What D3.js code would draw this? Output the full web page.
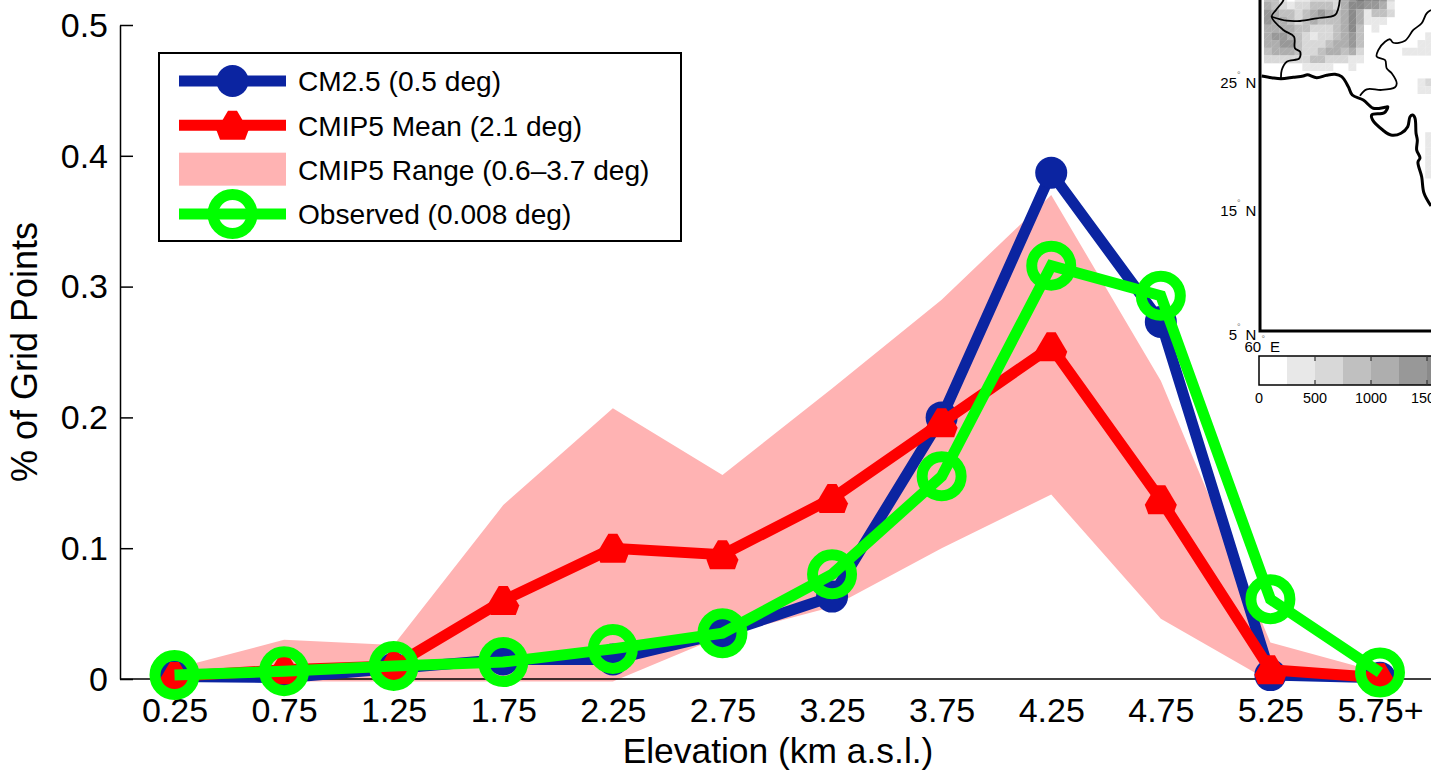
<!DOCTYPE html>
<html>
<head>
<meta charset="utf-8">
<title>Elevation histogram</title>
<script src="https://cdnjs.cloudflare.com/ajax/libs/d3/7.8.5/d3.min.js"></script>
<style>
    html, body { margin: 0; padding: 0; background: #fff; overflow: hidden; }
    svg { display: block; }
    text { font-family: "Liberation Sans", Arial, sans-serif; fill: #000; }
</style>
</head>
<body>
<div id="chart"></div>
<script>
// Main chart values
var elevationLabels = ["0.25", "0.75", "1.25", "1.75", "2.25", "2.75", "3.25", "3.75", "4.25", "4.75", "5.25", "5.75+"];
var cm25Values = [0.002, 0.001, 0.008, 0.015, 0.015, 0.035, 0.063, 0.200, 0.387, 0.273, 0.003, 0.001];
var cmip5MeanValues = [0.002, 0.007, 0.010, 0.060, 0.100, 0.095, 0.138, 0.196, 0.254, 0.137, 0.007, 0.001];
var cmip5UpperValues = [0.008, 0.030, 0.026, 0.133, 0.207, 0.156, 0.222, 0.290, 0.370, 0.228, 0.028, 0.005];
var cmip5LowerValues = [0.000, -0.002, -0.002, -0.002, -0.002, 0.033, 0.055, 0.100, 0.141, 0.046, -0.002, 0.000];
var observedValues = [0.003, 0.006, 0.010, 0.013, 0.023, 0.035, 0.080, 0.155, 0.316, 0.293, 0.061, 0.005];
var yTickValues = [0, 0.1, 0.2, 0.3, 0.4, 0.5];
var legendLabels = ["CM2.5 (0.5 deg)", "CMIP5 Mean (2.1 deg)", "CMIP5 Range (0.6\u20133.7 deg)", "Observed (0.008 deg)"];

// Inset map values: elevation level per grid cell, rows run north to south
var elevationLevels = [
    [3, 3, 1, 0, 1, 1, 2, 2, 2, 2, 4, 5, 7, 6, 6, 5, 2],
    [4, 3, 2, 1, 2, 2, 3, 3, 3, 2, 4, 6, 6, 5, 5, 4, 1],
    [5, 4, 3, 3, 2, 3, 4, 5, 4, 3, 4, 6, 4, 1, 3, 3, 2],
    [5, 4, 4, 3, 2, 3, 4, 3, 3, 3, 4, 6, 4, 1, 1, 1, 0],
    [4, 4, 4, 4, 3, 3, 2, 2, 2, 3, 4, 6, 3, 0, 1, 0, 0],
    [4, 5, 5, 4, 3, 2, 1, 2, 2, 3, 4, 5, 3, 0, 0, 0, 0, 0, 0, 0, 0, 1, 1],
    [4, 4, 5, 5, 3, 2, 2, 2, 3, 4, 4, 5, 3, 0, 0, 0, 0, 0, 0, 0, 1, 1, 0],
    [3, 4, 4, 4, 3, 2, 2, 3, 4, 4, 3, 4, 2, 0, 0, 0, 0, 0, 1, 1, 1, 1, 1],
    [2, 2, 2, 2, 2, 2, 3, 3, 2, 2, 2, 1, 1],
    [0, 0, 0, 0, 0, 1, 1, 1, 1, 0, 0, 1],
    [],
    [0, 0, 0, 0, 0, 0, 0, 0, 0, 0, 0, 0, 0, 0, 0, 0, 0, 0, 0, 0, 1, 2, 1],
    [0, 0, 0, 0, 0, 0, 0, 0, 0, 0, 0, 0, 0, 0, 0, 0, 0, 0, 0, 0, 1, 1, 1],
    [], [], [], [], [],
    [0, 0, 0, 0, 0, 0, 0, 0, 0, 0, 0, 0, 0, 0, 0, 0, 0, 0, 0, 0, 0, 1, 1],
    [0, 0, 0, 0, 0, 0, 0, 0, 0, 0, 0, 0, 0, 0, 0, 0, 0, 0, 0, 0, 0, 1, 1],
    [0, 0, 0, 0, 0, 0, 0, 0, 0, 0, 0, 0, 0, 0, 0, 0, 0, 0, 0, 0, 0, 1, 1],
    [0, 0, 0, 0, 0, 0, 0, 0, 0, 0, 0, 0, 0, 0, 0, 0, 0, 0, 0, 0, 0, 1, 1],
    [0, 0, 0, 0, 0, 0, 0, 0, 0, 0, 0, 0, 0, 0, 0, 0, 0, 0, 0, 0, 0, 1, 1],
    [0, 0, 0, 0, 0, 0, 0, 0, 0, 0, 0, 0, 0, 0, 0, 0, 0, 0, 0, 0, 0, 1, 1]
];
var colorbarSteps = [0, 250, 500, 750, 1000, 1250, 1500, 1750];
var colorbarTicks = [0, 500, 1000, 1500];
var latTicks = [25, 15, 5];

// Coast and borders as [lon, lat]
var coastline = [[60.13, 24.92], [60.91, 24.79], [61.64, 24.71], [62.60, 24.82], [63.38, 24.92], [63.70, 25.02], [64.43, 24.79], [65.21, 24.98], [65.86, 25.05], [66.38, 24.87], [66.90, 24.09], [67.21, 23.44], [68.07, 23.05], [68.85, 22.40], [69.77, 22.48], [69.98, 22.52], [69.71, 22.05], [68.73, 21.88], [68.80, 21.48], [69.59, 20.70], [70.23, 20.31], [71.02, 20.45], [71.54, 20.96], [71.72, 21.74], [71.93, 21.88], [72.11, 21.62], [72.19, 20.45], [72.29, 19.92], [72.24, 19.14], [72.50, 18.52], [72.34, 18.20], [72.63, 17.05], [72.81, 15.78], [73.36, 14.77]];
var iranBorder = [[61.64, 24.71], [61.70, 25.39], [62.09, 26.04], [63.07, 26.30], [63.13, 26.82], [62.73, 27.09], [62.66, 27.99], [61.82, 28.52], [60.91, 29.55], [61.25, 30.08], [61.77, 30.73], [61.88, 31.02]];
var afghanBorder = [[60.91, 29.55], [62.09, 29.24], [63.13, 29.22], [64.43, 29.43], [65.86, 29.69], [66.12, 30.21], [66.25, 31.02]];
var indiaBorder = [[67.81, 23.38], [68.34, 23.88], [69.51, 23.83], [70.55, 24.04], [70.68, 24.35], [70.29, 25.13], [69.90, 25.52], [69.77, 26.17], [69.12, 26.43], [69.24, 26.95], [69.77, 27.60], [70.16, 27.79], [70.41, 27.52], [71.33, 27.68], [71.98, 28.52], [72.63, 29.04], [73.02, 29.82], [73.36, 30.08]];

var width = 1431;
var height = 771;

var svg = d3.select("#chart").append("svg")
    .attr("width", width)
    .attr("height", height);

// Scales for the main chart
var xScale = d3.scalePoint().domain(elevationLabels).range([174.5, 1380]);
var yScale = d3.scaleLinear().domain([0, 0.5]).range([679, 25]);

var colors = {blue: "#0b24a1", red: "#ff0000", pink: "#ffb3b3", green: "#00ff00"};
var lineWidth = 11;
var dotRadius = 16;
var ringRadius = 19.5;
var ringWidth = 11;

// Red marker is a blunt hexagon
var hexPoints = [[-4.5, -14.5], [4.5, -14.5], [16, 5], [12.5, 14.5], [-12.5, 14.5], [-16, 5]];
var hexPath = d3.line()(hexPoints) + "Z";

var line = d3.line()
    .x(function (d, i) { return xScale(elevationLabels[i]); })
    .y(function (d) { return yScale(d); });

var band = d3.area()
    .x(function (d, i) { return xScale(elevationLabels[i]); })
    .y0(function (d, i) { return yScale(cmip5LowerValues[i]); })
    .y1(function (d) { return yScale(d); });

// Range band goes under everything
svg.append("path")
    .datum(cmip5UpperValues)
    .attr("d", band)
    .attr("fill", colors.pink);

// Axes
var yAxis = d3.axisLeft(yScale)
    .tickValues(yTickValues)
    .tickFormat(function (d) { return d === 0 ? "0" : d3.format(".1f")(d); })
    .tickSizeInner(-13)
    .tickSizeOuter(0)
    .tickPadding(12);

var yAxisG = svg.append("g")
    .attr("transform", "translate(120,0)")
    .call(yAxis);
yAxisG.selectAll("text").style("font-size", "34px").attr("dy", ".33em");
yAxisG.selectAll("line, path").attr("stroke", "#000").attr("stroke-width", 1.5);

var xAxis = d3.axisBottom(xScale)
    .tickSize(0)
    .tickPadding(19);

var xAxisG = svg.append("g")
    .attr("transform", "translate(0,679)")
    .call(xAxis);
xAxisG.select(".domain").remove();
xAxisG.selectAll("text").style("font-size", "34px");

svg.append("line")
    .attr("x1", 120).attr("x2", width)
    .attr("y1", yScale(0)).attr("y2", yScale(0))
    .attr("stroke", "#000")
    .attr("stroke-width", 1.5);

svg.append("text")
    .attr("x", 778)
    .attr("y", 763)
    .attr("text-anchor", "middle")
    .style("font-size", "35.4px")
    .text("Elevation (km a.s.l.)");

svg.append("text")
    .attr("transform", "translate(37,352) rotate(-90)")
    .attr("text-anchor", "middle")
    .style("font-size", "36px")
    .text("% of Grid Points");

// Series: blue, then red, then green on top
function drawLine(values, color) {
    svg.append("path")
        .datum(values)
        .attr("d", line)
        .attr("fill", "none")
        .attr("stroke", color)
        .attr("stroke-width", lineWidth)
        .attr("stroke-linejoin", "miter");
}

drawLine(cm25Values, colors.blue);
svg.append("g").selectAll("circle")
    .data(cm25Values)
    .enter()
    .append("circle")
    .attr("cx", function (d, i) { return xScale(elevationLabels[i]); })
    .attr("cy", function (d) { return yScale(d); })
    .attr("r", dotRadius)
    .attr("fill", colors.blue);

drawLine(cmip5MeanValues, colors.red);
svg.append("g").selectAll("path")
    .data(cmip5MeanValues)
    .enter()
    .append("path")
    .attr("d", hexPath)
    .attr("transform", function (d, i) {
        return "translate(" + xScale(elevationLabels[i]) + "," + yScale(d) + ")";
    })
    .attr("fill", colors.red);

drawLine(observedValues, colors.green);
svg.append("g").selectAll("circle")
    .data(observedValues)
    .enter()
    .append("circle")
    .attr("cx", function (d, i) { return xScale(elevationLabels[i]); })
    .attr("cy", function (d) { return yScale(d); })
    .attr("r", ringRadius)
    .attr("fill", "none")
    .attr("stroke", colors.green)
    .attr("stroke-width", ringWidth);

// Legend
var legend = svg.append("g");
legend.append("rect")
    .attr("x", 159).attr("y", 53)
    .attr("width", 522).attr("height", 188)
    .attr("fill", "#fff")
    .attr("stroke", "#000")
    .attr("stroke-width", 2);

var legendY = d3.scalePoint().domain(legendLabels).range([81, 214]);
var legendX1 = 179;
var legendX2 = 286;
var legendMid = (legendX1 + legendX2) / 2;

legend.selectAll("text")
    .data(legendLabels)
    .enter()
    .append("text")
    .attr("x", 298)
    .attr("y", function (d) { return legendY(d); })
    .attr("dy", ".37em")
    .style("font-size", "28.1px")
    .text(function (d) { return d; });

function legendLine(label, color) {
    legend.append("line")
        .attr("x1", legendX1).attr("x2", legendX2)
        .attr("y1", legendY(label)).attr("y2", legendY(label))
        .attr("stroke", color)
        .attr("stroke-width", lineWidth);
}

legendLine(legendLabels[0], colors.blue);
legend.append("circle")
    .attr("cx", legendMid).attr("cy", legendY(legendLabels[0]))
    .attr("r", dotRadius)
    .attr("fill", colors.blue);

legendLine(legendLabels[1], colors.red);
legend.append("path")
    .attr("d", hexPath)
    .attr("transform", "translate(" + legendMid + "," + legendY(legendLabels[1]) + ")")
    .attr("fill", colors.red);

legend.append("rect")
    .attr("x", legendX1).attr("y", legendY(legendLabels[2]) - 17)
    .attr("width", legendX2 - legendX1).attr("height", 33)
    .attr("fill", colors.pink);

legendLine(legendLabels[3], colors.green);
legend.append("circle")
    .attr("cx", legendMid).attr("cy", legendY(legendLabels[3]))
    .attr("r", ringRadius)
    .attr("fill", "none")
    .attr("stroke", colors.green)
    .attr("stroke-width", ringWidth);

// Inset map
var mapX = d3.scaleLinear().domain([60, 70]).range([1260, 1388]);
var mapY = d3.scaleLinear().domain([5, 15]).range([331, 203]);
var latLabelY = d3.scaleLinear().domain([5, 15, 25]).range([340, 216, 88]);

var cellDeg = 0.6;
var gridLon = 60.31;
var gridLat = 31.33;
var grays = ["#ffffff", "#e8e8e8", "#d8d8d8", "#c0c0c0", "#aeaeae", "#989898", "#8a8a8a", "#787878"];

var map = svg.append("g");

var cells = [];
elevationLevels.forEach(function (row, r) {
    row.forEach(function (level, c) {
        if (level > 0) {
            cells.push({row: r, col: c, level: level});
        }
    });
});

function cellX(d) { return mapX(gridLon + d.col * cellDeg); }
function cellY(d) { return mapY(gridLat - d.row * cellDeg); }
var cellW = mapX(cellDeg) - mapX(0);
var cellH = mapY(0) - mapY(cellDeg);

map.append("g").selectAll("rect")
    .data(cells)
    .enter()
    .append("rect")
    .attr("x", cellX)
    .attr("y", cellY)
    .attr("width", cellW + 0.2)
    .attr("height", cellH + 0.2)
    .attr("fill", function (d) { return grays[d.level]; });

// Faint diagonals left by the triangulated cells
map.append("g").selectAll("line")
    .data(cells)
    .enter()
    .append("line")
    .attr("x1", cellX)
    .attr("y1", function (d) { return cellY(d) + cellH; })
    .attr("x2", function (d) { return cellX(d) + cellW; })
    .attr("y2", cellY)
    .attr("stroke", "#fff")
    .attr("stroke-opacity", 0.2)
    .attr("stroke-width", 0.6);

var geoLine = d3.line()
    .x(function (d) { return mapX(d[0]); })
    .y(function (d) { return mapY(d[1]); })
    .curve(d3.curveCatmullRom);

function drawGeo(points, lineW) {
    map.append("path")
        .datum(points)
        .attr("d", geoLine)
        .attr("fill", "none")
        .attr("stroke", "#000")
        .attr("stroke-width", lineW)
        .attr("stroke-linejoin", "round");
}

drawGeo(iranBorder, 1.8);
drawGeo(afghanBorder, 1.8);
drawGeo(indiaBorder, 1.8);
drawGeo(coastline, 3);

// Map frame
map.append("path")
    .attr("d", d3.line()([[mapX(60), 0], [mapX(60), mapY(5)], [width, mapY(5)]]))
    .attr("fill", "none")
    .attr("stroke", "#000")
    .attr("stroke-width", 3);

// Lat/lon labels
var latG = map.append("g").selectAll("g")
    .data(latTicks)
    .enter()
    .append("g")
    .style("font-size", "15px");
latG.append("text")
    .attr("x", 1237)
    .attr("y", function (d) { return latLabelY(d); })
    .attr("text-anchor", "end")
    .text(function (d) { return d; });
latG.append("text")
    .attr("x", 1237)
    .attr("y", function (d) { return latLabelY(d) - 10; })
    .style("font-size", "9px")
    .style("fill", "#777")
    .text("\u00b0");
latG.append("text")
    .attr("x", 1245.5)
    .attr("y", function (d) { return latLabelY(d); })
    .text("N");

var lonG = map.append("g").style("font-size", "15px");
lonG.append("text").attr("x", 1244.5).attr("y", 352).text("60");
lonG.append("text").attr("x", 1261.5).attr("y", 342).style("font-size", "9px").style("fill", "#777").text("\u00b0");
lonG.append("text").attr("x", 1270).attr("y", 352).text("E");

// Colorbar
var barScale = d3.scaleLinear().domain([0, 1500]).range([1259, 1427]);
var barTop = 356;
var barBottom = 385;
var bar = svg.append("g");

bar.selectAll("rect")
    .data(d3.pairs(colorbarSteps))
    .enter()
    .append("rect")
    .attr("x", function (d) { return barScale(d[0]); })
    .attr("y", barTop)
    .attr("width", function (d) { return barScale(d[1]) - barScale(d[0]); })
    .attr("height", barBottom - barTop)
    .attr("fill", function (d, i) { return grays[i]; });

bar.append("rect")
    .attr("x", barScale(0)).attr("y", barTop)
    .attr("width", width - barScale(0) + 5).attr("height", barBottom - barTop)
    .attr("fill", "none")
    .attr("stroke", "#000")
    .attr("stroke-width", 1.5);

var barTicks = bar.append("g").selectAll("g")
    .data(colorbarTicks)
    .enter()
    .append("g")
    .attr("transform", function (d) { return "translate(" + barScale(d) + ",0)"; });
barTicks.filter(function (d) { return d > 0; }).append("line")
    .attr("y1", barTop).attr("y2", barTop + 5)
    .attr("stroke", "#333").attr("stroke-width", 1.2);
barTicks.filter(function (d) { return d > 0; }).append("line")
    .attr("y1", barBottom - 5).attr("y2", barBottom)
    .attr("stroke", "#333").attr("stroke-width", 1.2);
barTicks.append("text")
    .attr("y", 403)
    .attr("text-anchor", "middle")
    .style("font-size", "14.4px")
    .text(function (d) { return d; });
</script>
</body>
</html>
